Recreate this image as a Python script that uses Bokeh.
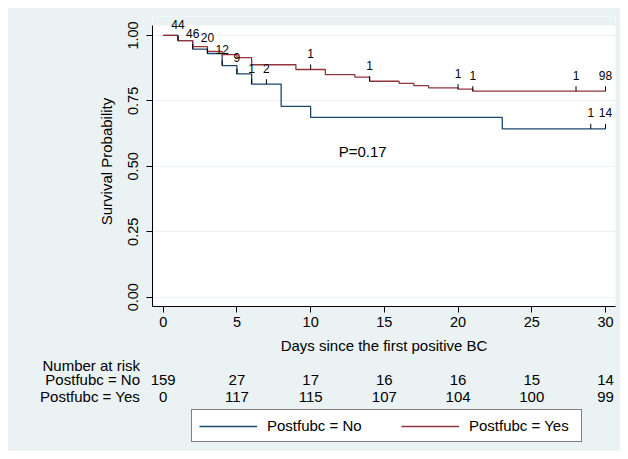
import numpy as np
from bokeh.plotting import figure
from bokeh.models import (Range1d, FixedTicker, PrintfTickFormatter, Legend, LegendItem,
                          BoxAnnotation)
from bokeh.core.properties import value
from bokeh.embed import file_html
from bokeh.resources import INLINE

# ---------------- data ----------------
days_no = [0, 1, 2, 3, 4, 5, 6, 8, 10, 23, 30]
surv_no = [1.0, 0.980, 0.948, 0.931, 0.885, 0.853, 0.814, 0.729, 0.687, 0.643, 0.643]
days_yes = [0, 1, 2, 3, 4, 5, 6, 9, 11, 13, 14, 16, 17, 18, 20, 21, 30]
surv_yes = [1.0, 0.980, 0.957, 0.939, 0.927, 0.915, 0.888, 0.870, 0.850, 0.841,
            0.825, 0.817, 0.808, 0.800, 0.795, 0.787, 0.787]
cens_no_days = [1, 2, 3, 4, 5, 6, 7, 29, 30]
cens_no_n = [44, 46, 20, 12, 9, 1, 2, 1, 14]
cens_yes_days = [10, 14, 20, 21, 28, 30]
cens_yes_n = [1, 1, 1, 1, 1, 98]
risk_days = [0, 5, 10, 15, 20, 25, 30]
risk_no = [159, 27, 17, 16, 16, 15, 14]
risk_yes = [0, 117, 115, 107, 104, 100, 99]
x_ticks = [0, 5, 10, 15, 20, 25, 30]
y_ticks = [0.0, 0.25, 0.50, 0.75, 1.0]
group_labels = ["Postfubc = No", "Postfubc = Yes"]
risk_title = "Number at risk"
p_value_text = "P=0.17"
x_title = "Days since the first positive BC"
y_title = "Survival Probability"

# ---------------- style ----------------
FONT = "Liberation Sans"
BG = "#EAF2F3"
NAVY = "#1A476F"
MAROON = "#90353B"
FRAME_W, FRAME_H = 463, 290
BL, BR, BT, BB = 144, 5, 8, 49
TOTAL_W = BL + FRAME_W + BR
Q_H = 95
X0, X1 = -0.726, 30.678
Y0 = -0.0355
PX_Y = 261.76
Y1 = Y0 + FRAME_H / PX_Y
Y_TOP_PLOTREGION = 1.038        # upper edge of the white plot region
PX_X = FRAME_W / (X1 - X0)


def step_at(days, surv, t):
    idx = np.searchsorted(np.asarray(days), np.asarray(t), side="right") - 1
    return list(np.asarray(surv)[idx])


p = figure(frame_width=FRAME_W, frame_height=FRAME_H,
           x_range=Range1d(X0, X1), y_range=Range1d(Y0, Y1),
           output_backend="svg", toolbar_location=None,
           min_border_left=BL, min_border_right=BR, min_border_top=BT, min_border_bottom=BB,
           background_fill_color="white", border_fill_color=BG, outline_line_color=None)
p.margin = (8, 8, 0, 8)
p.styles = {"background-color": BG}

# grey strip above the white plot region (censor counts may sit in it)
p.add_layout(BoxAnnotation(bottom=Y_TOP_PLOTREGION, fill_color=BG, fill_alpha=1,
                           line_color=None, level="underlay"))

r_no = p.step(x=days_no, y=surv_no, mode="after", line_color=NAVY, line_width=1.3)
r_yes = p.step(x=days_yes, y=surv_yes, mode="after", line_color=MAROON, line_width=1.3)

for cd, cn, dd, ss in [(cens_no_days, cens_no_n, days_no, surv_no),
                       (cens_yes_days, cens_yes_n, days_yes, surv_yes)]:
    yy = step_at(dd, ss, cd)
    p.ray(x=cd, y=yy, length=5, length_units="screen", angle=np.pi / 2,
          line_color="black", line_width=1)
    p.text(x=cd, y=yy, text=[str(n) for n in cn], text_align="center",
           text_baseline="middle", y_offset=-16, text_font=value(FONT),
           text_font_size="12px", text_color="black")

p.text(x=[11.9], y=[0.556], text=[p_value_text], text_align="left",
       text_baseline="middle", text_font=value(FONT), text_font_size="15px",
       text_color="black")

p.xgrid.visible = False
p.ygrid.grid_line_color = BG
p.ygrid.grid_line_width = 1

for ax in (p.xaxis[0], p.yaxis[0]):
    ax.minor_tick_line_color = None
    ax.major_tick_out = 6
    ax.major_tick_in = 0
    ax.axis_line_color = "black"
    ax.major_tick_line_color = "black"
    ax.major_label_text_font = FONT
    ax.major_label_text_font_size = "14.5px"
    ax.major_label_text_color = "black"
    ax.axis_label_text_font = FONT
    ax.axis_label_text_font_size = "15px"
    ax.axis_label_text_font_style = "normal"
    ax.axis_label_text_color = "black"

p.xaxis.ticker = FixedTicker(ticks=x_ticks)
p.xaxis.major_label_standoff = 4
p.xaxis.axis_label = x_title
p.xaxis.axis_label_standoff = 7
p.yaxis.ticker = FixedTicker(ticks=y_ticks)
p.yaxis.bounds = (Y0, Y_TOP_PLOTREGION)
p.yaxis.formatter = PrintfTickFormatter(format="%.2f")
p.yaxis.major_label_orientation = "vertical"
p.yaxis.major_label_standoff = 8
p.yaxis.axis_label = y_title
p.yaxis.axis_label_standoff = 11

# ---------------- number-at-risk table + legend (second panel) ----------------
qx0 = X0 - BL / PX_X
qx1 = qx0 + TOTAL_W / PX_X
q = figure(width=TOTAL_W, height=Q_H, x_range=Range1d(qx0, qx1), y_range=Range1d(Q_H, 0),
           output_backend="svg", toolbar_location=None, x_axis_type=None, y_axis_type=None,
           min_border=0, background_fill_color=BG, border_fill_color=BG,
           outline_line_color=None)
q.margin = (0, 8, 8, 8)
q.styles = {"background-color": BG}
q.grid.visible = False

lab_x = qx0 + 131.5 / PX_X
row_y = [8.6, 23.3, 40.0]   # text centres, px from the panel top
q.text(x=[lab_x] * 3, y=row_y, text=[risk_title] + group_labels, text_align="right",
       text_baseline="middle", text_font=value(FONT), text_font_size="15px",
       text_color="black")
q.text(x=risk_days, y=[row_y[1]] * len(risk_days), text=[str(v) for v in risk_no],
       text_align="center", text_baseline="middle", text_font=value(FONT),
       text_font_size="15px", text_color="black")
q.text(x=risk_days, y=[row_y[2]] * len(risk_days), text=[str(v) for v in risk_yes],
       text_align="center", text_baseline="middle", text_font=value(FONT),
       text_font_size="15px", text_color="black")

k_no = q.line(x=days_no, y=surv_no, line_color=NAVY, line_width=1.3, visible=False)
k_yes = q.line(x=days_yes, y=surv_yes, line_color=MAROON, line_width=1.3, visible=False)
legend = Legend(items=[LegendItem(label=group_labels[0], renderers=[k_no]),
                       LegendItem(label=group_labels[1], renderers=[k_yes])],
                orientation="horizontal", location=(183, 9), padding=7, margin=0,
                spacing=29, glyph_width=58, glyph_height=14, label_height=14,
                label_width=105, label_standoff=10, border_line_color="black",
                border_line_width=1, background_fill_color="white",
                background_fill_alpha=1, label_text_font=FONT,
                label_text_font_size="15px", label_text_color="black")
q.add_layout(legend)

open("out.html", "w").write(file_html([p, q], INLINE))
